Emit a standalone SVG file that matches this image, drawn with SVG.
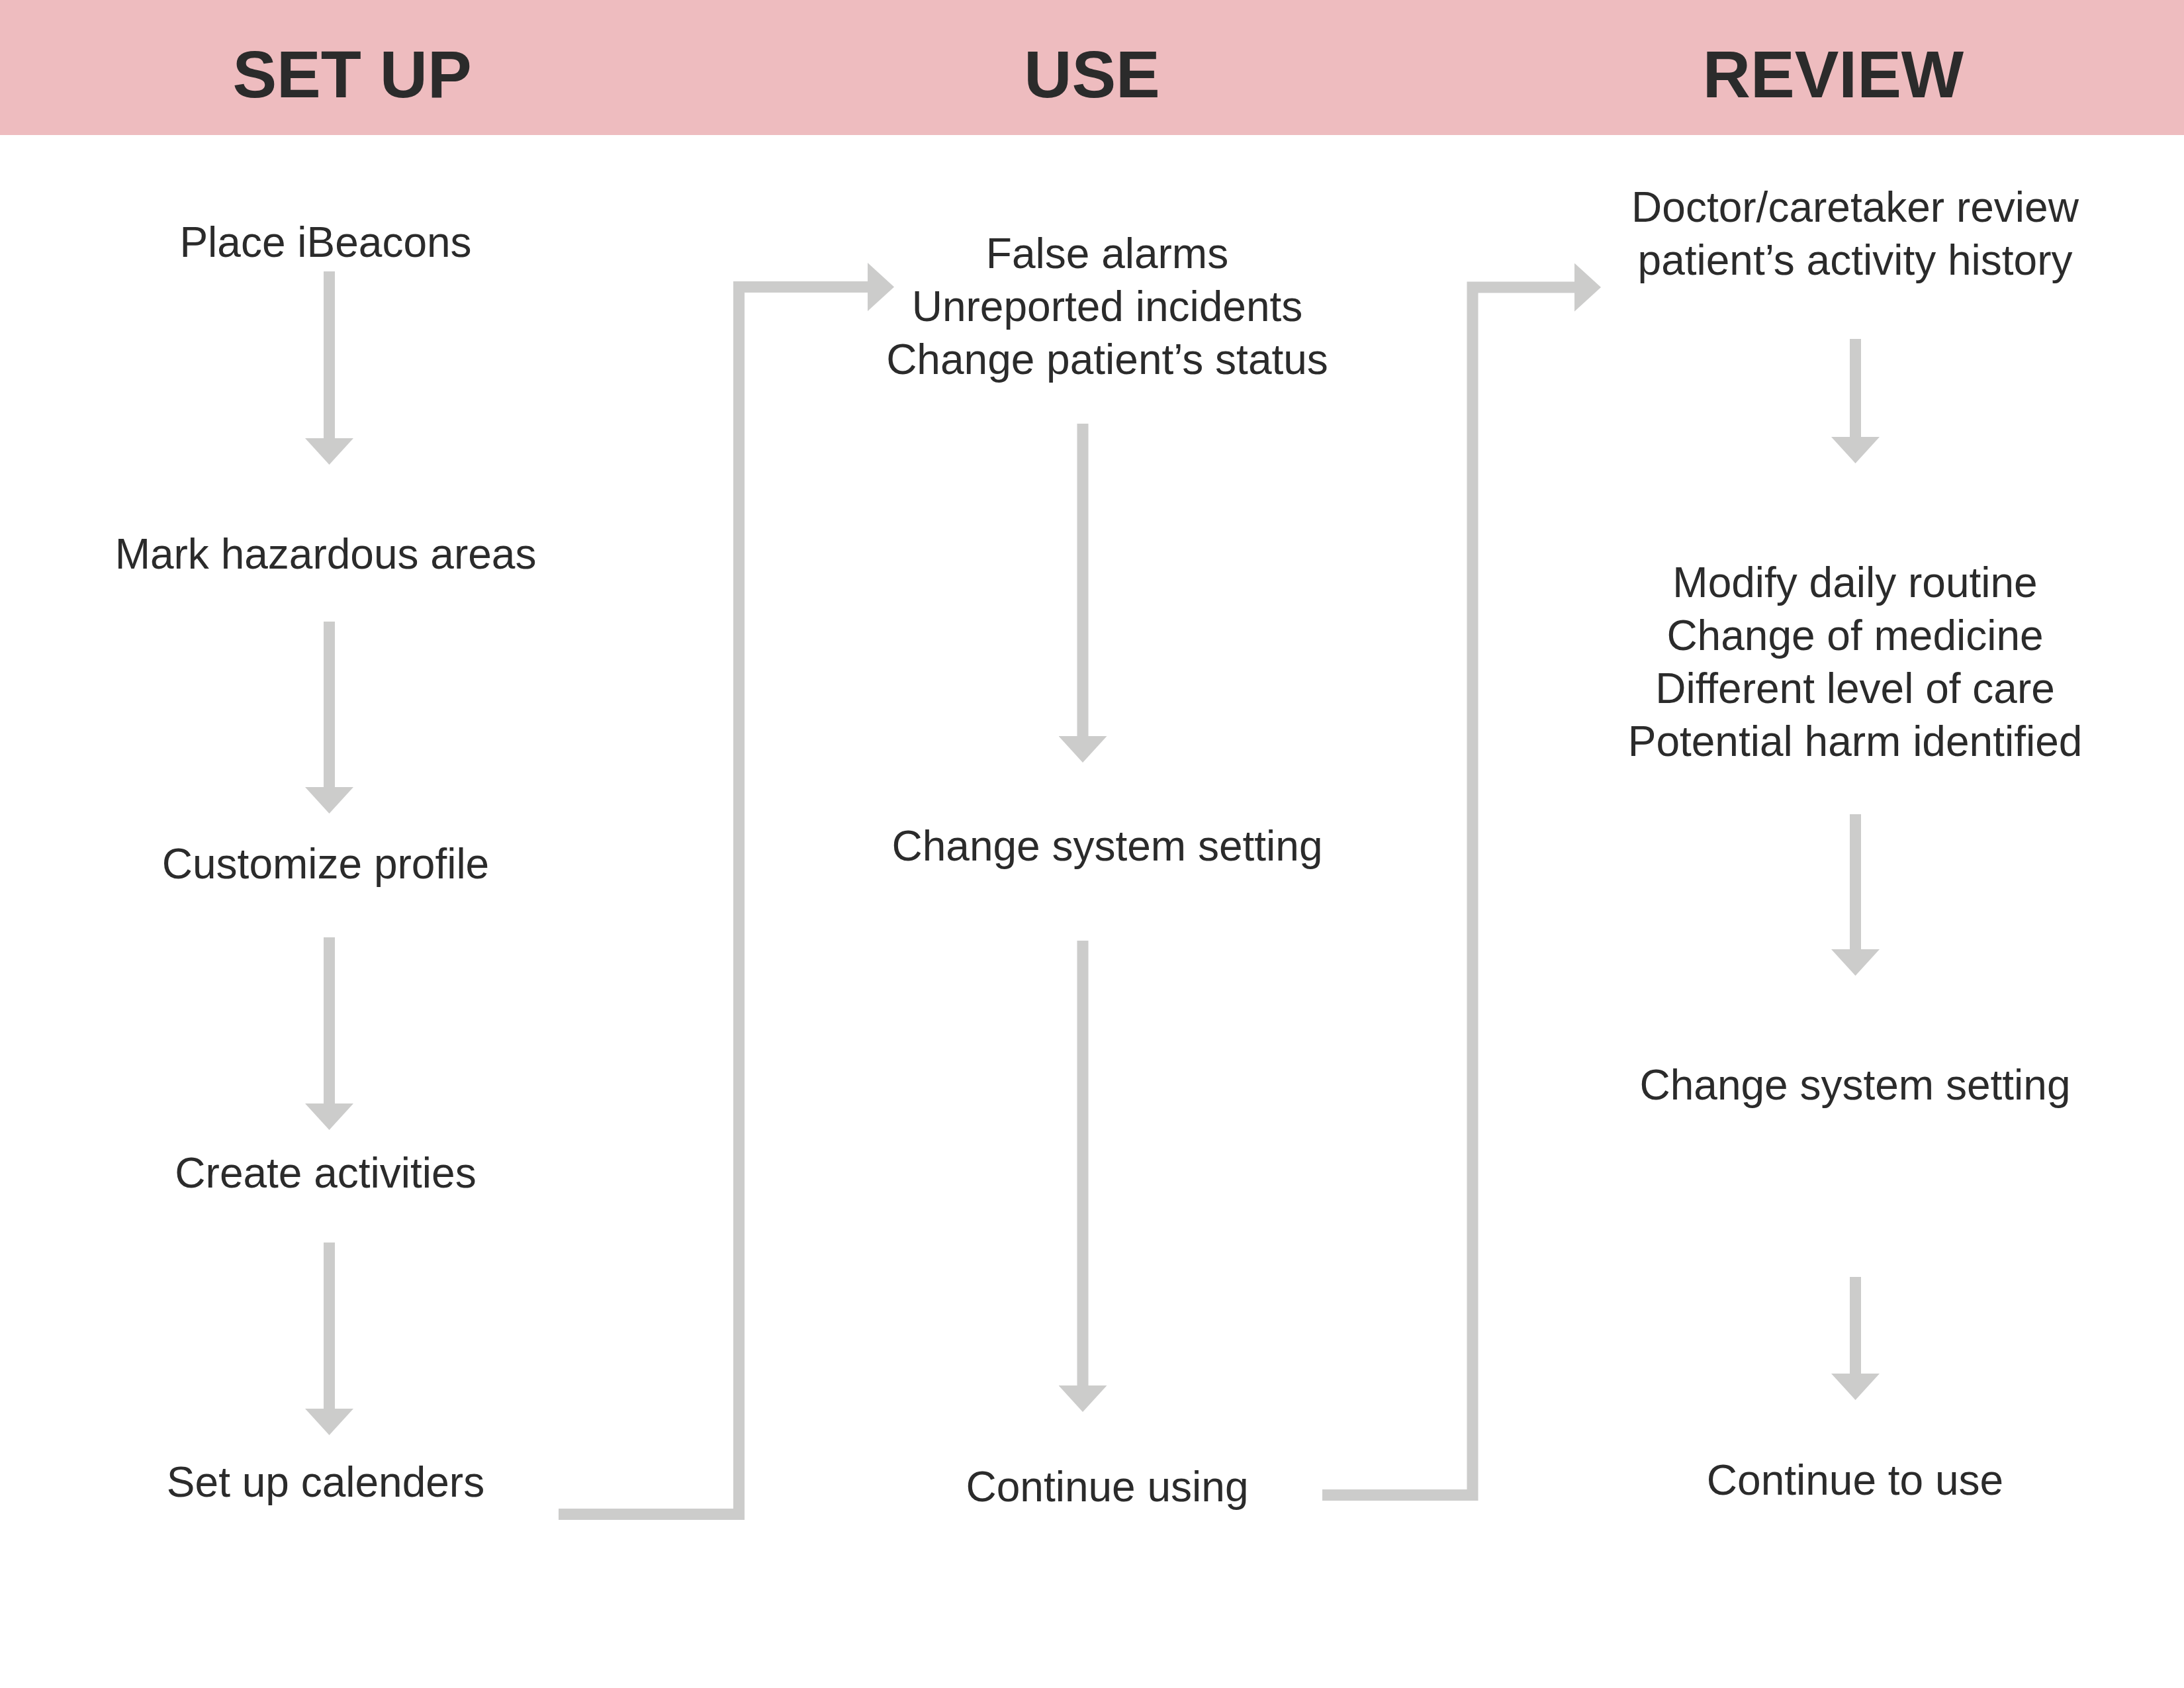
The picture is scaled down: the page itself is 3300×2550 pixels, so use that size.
<svg xmlns="http://www.w3.org/2000/svg" width="3300" height="2550" viewBox="0 0 3300 2550">
  <style>
    .hdr { font-family: "Liberation Sans", Arial, sans-serif; font-weight: bold; font-size: 100px; fill: #2b2b2b; text-anchor: middle; }
    .lbl { font-family: "Liberation Sans", Arial, sans-serif; font-size: 64px; fill: #2b2b2b; text-anchor: middle; }
    .conn { fill: none; stroke: #cccccb; stroke-width: 17; stroke-linejoin: miter; stroke-linecap: butt; marker-end: url(#head); }
  </style>
  <defs>
    <marker id="head" markerUnits="userSpaceOnUse" markerWidth="40" markerHeight="73" refX="0" refY="36.5" orient="auto" viewBox="0 0 40 73">
      <path d="M0,0 L40,36.5 L0,73 Z" fill="#cccccb"/>
    </marker>
  </defs>
  <rect x="0" y="0" width="3300" height="2550" fill="#ffffff"/>
  <g id="header">
    <rect x="0" y="0" width="3300" height="204" fill="#eebcbf"/>
    <text class="hdr" x="532" y="147">SET UP</text>
    <text class="hdr" x="1650" y="147">USE</text>
    <text class="hdr" x="2770" y="147">REVIEW</text>
  </g>
  <g id="connectors">
    <line class="conn" x1="497.5" y1="410" x2="497.5" y2="662"/>
    <line class="conn" x1="497.5" y1="939" x2="497.5" y2="1189"/>
    <line class="conn" x1="497.5" y1="1416" x2="497.5" y2="1667"/>
    <line class="conn" x1="497.5" y1="1877" x2="497.5" y2="2128"/>
    <line class="conn" x1="1636" y1="640" x2="1636" y2="1112"/>
    <line class="conn" x1="1636" y1="1421" x2="1636" y2="2093"/>
    <line class="conn" x1="2803.5" y1="512" x2="2803.5" y2="660"/>
    <line class="conn" x1="2803.5" y1="1230" x2="2803.5" y2="1434"/>
    <line class="conn" x1="2803.5" y1="1929" x2="2803.5" y2="2075"/>
    <path class="conn" d="M844,2287.5 H1116.5 V433.5 H1311"/>
    <path class="conn" d="M1998,2258.5 H2225 V434 H2379"/>
  </g>
  <g id="setup-place"><text class="lbl" x="492" y="388">Place iBeacons</text></g>
  <g id="setup-mark"><text class="lbl" x="492" y="859">Mark hazardous areas</text></g>
  <g id="setup-profile"><text class="lbl" x="492" y="1327">Customize profile</text></g>
  <g id="setup-activities"><text class="lbl" x="492" y="1794">Create activities</text></g>
  <g id="setup-calenders"><text class="lbl" x="492" y="2261">Set up calenders</text></g>
  <g id="use-issues">
    <text class="lbl" x="1673" y="405">False alarms</text>
    <text class="lbl" x="1673" y="485">Unreported incidents</text>
    <text class="lbl" x="1673" y="565">Change patient’s status</text>
  </g>
  <g id="use-setting"><text class="lbl" x="1673" y="1300">Change system setting</text></g>
  <g id="use-continue"><text class="lbl" x="1673" y="2268">Continue using</text></g>
  <g id="review-history">
    <text class="lbl" x="2803" y="335">Doctor/caretaker review</text>
    <text class="lbl" x="2803" y="415">patient’s activity history</text>
  </g>
  <g id="review-changes">
    <text class="lbl" x="2803" y="902">Modify daily routine</text>
    <text class="lbl" x="2803" y="982">Change of medicine</text>
    <text class="lbl" x="2803" y="1062">Different level of care</text>
    <text class="lbl" x="2803" y="1142">Potential harm identified</text>
  </g>
  <g id="review-setting"><text class="lbl" x="2803" y="1661">Change system setting</text></g>
  <g id="review-continue"><text class="lbl" x="2803" y="2258">Continue to use</text></g>
</svg>
